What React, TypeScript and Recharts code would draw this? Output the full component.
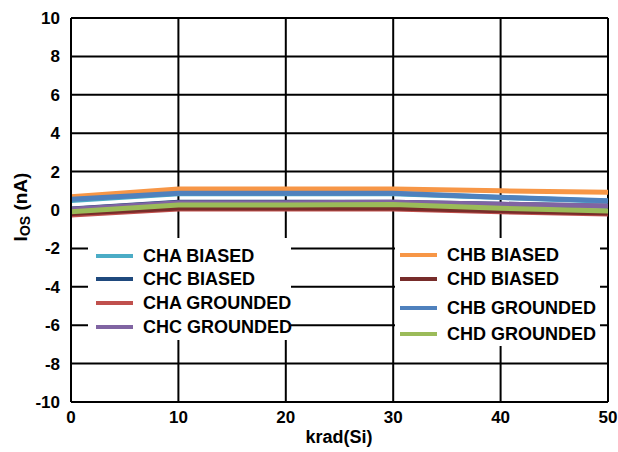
import React from 'react';
import { LineChart, Line, XAxis, YAxis, CartesianGrid, Legend } from 'recharts';

// krad(Si) dose points
const doses = [0, 10, 20, 30, 40, 50];

// Ios (nA) per channel / bias condition
const chaBiased = [0.5, 0.85, 0.85, 0.85, 0.65, 0.45];
const chcBiased = [0.05, 0.4, 0.4, 0.4, 0.3, 0.2];
const chaGrounded = [-0.26, 0.05, 0.05, 0.05, -0.09, -0.21];
const chcGrounded = [0.04, 0.38, 0.38, 0.4, 0.3, 0.21];
const chbBiased = [0.69, 1.09, 1.09, 1.1, 1.0, 0.92];
const chdBiased = [-0.18, 0.1, 0.1, 0.1, -0.04, -0.15];
const chbGrounded = [0.56, 0.87, 0.87, 0.87, 0.66, 0.48];
const chdGrounded = [-0.09, 0.26, 0.26, 0.28, 0.09, -0.05];

const yTicks = [-10, -8, -6, -4, -2, 0, 2, 4, 6, 8, 10];

const series = [
  { key: 'chaBiased', name: 'CHA BIASED', color: '#4BACC6', values: chaBiased },
  { key: 'chcBiased', name: 'CHC BIASED', color: '#1F497D', values: chcBiased },
  { key: 'chaGrounded', name: 'CHA GROUNDED', color: '#C0504D', values: chaGrounded },
  { key: 'chcGrounded', name: 'CHC GROUNDED', color: '#8064A2', values: chcGrounded },
  { key: 'chbBiased', name: 'CHB BIASED', color: '#F79646', values: chbBiased },
  { key: 'chdBiased', name: 'CHD BIASED', color: '#772C2A', values: chdBiased },
  { key: 'chbGrounded', name: 'CHB GROUNDED', color: '#4F81BD', values: chbGrounded },
  { key: 'chdGrounded', name: 'CHD GROUNDED', color: '#9BBB59', values: chdGrounded },
];

const data = doses.map((d, i) => {
  const row: Record<string, number> = { dose: d };
  series.forEach(s => { row[s.key] = s.values[i]; });
  return row;
});

const FONT = '"Liberation Sans", Arial, sans-serif';

const YLabel = () => (
  <text
    x={0}
    y={0}
    transform="translate(27, 207) rotate(-90)"
    textAnchor="middle"
    fontFamily={FONT}
    fontWeight="bold"
    fontSize={19}
    fill="#000"
  >
    I<tspan fontSize={14} dy={3}>OS</tspan><tspan dy={-3}> (nA)</tspan>
  </text>
);

const XLabel = () => (
  <text x={339} y={443} textAnchor="middle" fontFamily={FONT} fontWeight="bold" fontSize={18} fill="#000">
    krad(Si)
  </text>
);

const LegendItem = ({ name, color, top, left }: { name: string; color: string; top: number; left: number }) => (
  <div style={{ position: 'absolute', top: top - 11, left, height: 22, display: 'flex', alignItems: 'center' }}>
    <div style={{ width: 37, height: 4, background: color, marginRight: 10 }} />
    <span style={{ fontFamily: FONT, fontWeight: 'bold', fontSize: 18, color: '#000', whiteSpace: 'nowrap' }}>{name}</span>
  </div>
);

const leftRows = [256, 279, 303, 327];
const rightRows = [255, 279, 308, 334];

const renderLegend = (props: any) => {
  const payload = props.payload || [];
  const byName = (n: string) => payload.find((p: any) => p.value === n) || { color: '#000' };
  const leftNames = ['CHA BIASED', 'CHC BIASED', 'CHA GROUNDED', 'CHC GROUNDED'];
  const rightNames = ['CHB BIASED', 'CHD BIASED', 'CHB GROUNDED', 'CHD GROUNDED'];
  return (
    <div style={{ position: 'relative', width: 618, height: 452 }}>
      <div style={{ position: 'absolute', left: 88, top: 238, width: 203, height: 102, background: '#fff' }} />
      <div style={{ position: 'absolute', left: 395, top: 238, width: 205, height: 108, background: '#fff' }} />
      {leftNames.map((n, i) => (
        <LegendItem key={n} name={n} color={byName(n).color} top={leftRows[i]} left={96} />
      ))}
      {rightNames.map((n, i) => (
        <LegendItem key={n} name={n} color={byName(n).color} top={rightRows[i]} left={400} />
      ))}
    </div>
  );
};

export default function App() {
  return (
    <div style={{ position: 'absolute', left: 0, top: 0, width: 618, height: 452, background: '#fff' }}>
      <LineChart width={618} height={452} data={data} margin={{ top: 18, right: 10, bottom: 0, left: 0 }}>
        <CartesianGrid stroke="#000" strokeWidth={2} horizontal vertical />
        <XAxis
          dataKey="dose"
          type="number"
          domain={[0, 50]}
          ticks={doses}
          height={50}
          axisLine={{ stroke: '#000', strokeWidth: 2 }}
          tickLine={false}
          tickSize={0}
          tickMargin={9}
          tick={{ fill: '#000', fontFamily: FONT, fontWeight: 'bold', fontSize: 17 }}
          label={{ content: XLabel }}
        />
        <YAxis
          type="number"
          domain={[-10, 10]}
          ticks={yTicks}
          width={71}
          axisLine={{ stroke: '#000', strokeWidth: 2 }}
          tickLine={false}
          tickSize={0}
          tickMargin={11}
          tick={{ fill: '#000', fontFamily: FONT, fontWeight: 'bold', fontSize: 17 }}
          label={{ content: YLabel }}
        />
        <Legend
          layout="horizontal"
          verticalAlign="middle"
          align="center"
          content={renderLegend}
          wrapperStyle={{ position: 'absolute', left: 0, top: 0, width: 618, height: 452, pointerEvents: 'none' }}
        />
        {series.map(s => (
          <Line
            key={s.key}
            dataKey={s.key}
            name={s.name}
            stroke={s.color}
            strokeWidth={5}
            dot={false}
            type="linear"
            isAnimationActive={false}
          />
        ))}
      </LineChart>
    </div>
  );
}
